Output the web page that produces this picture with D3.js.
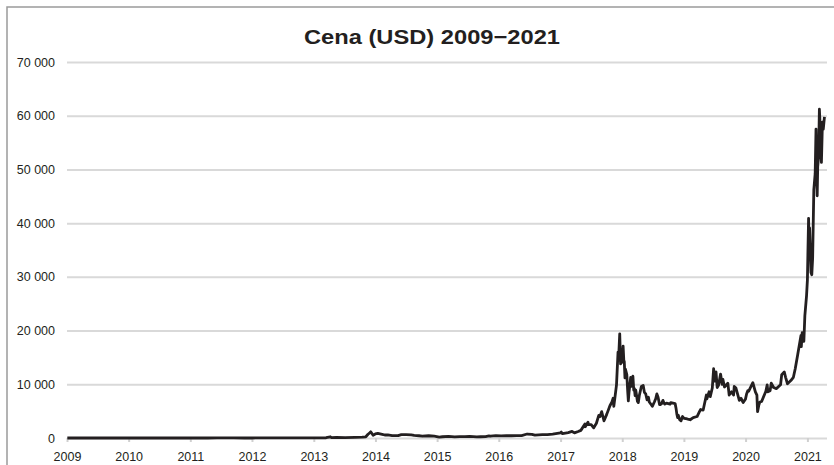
<!DOCTYPE html>
<html>
<head>
<meta charset="utf-8">
<script src="https://cdn.jsdelivr.net/npm/d3@7"></script>
<style>
  html, body { margin: 0; padding: 0; background: #fff; }
  svg { display: block; }
  text { font-family: "Liberation Sans", Arial, sans-serif; fill: #231f20; }
</style>
</head>
<body>
<svg id="chart" width="834" height="465"></svg>
<script>
const title = "Cena (USD) 2009\u22122021";
const yearTicks = [2009, 2010, 2011, 2012, 2013, 2014, 2015, 2016, 2017, 2018, 2019, 2020, 2021];
const yTicks = [0, 10000, 20000, 30000, 40000, 50000, 60000, 70000];

const dates = [
  "2009-01-03","2009-07-01","2010-01-01","2010-07-17","2010-12-31",
  "2011-02-10","2011-04-15","2011-06-08","2011-07-15","2011-09-15","2011-11-18","2011-12-31",
  "2012-03-01","2012-06-01","2012-08-16","2012-10-01","2012-12-31",
  "2013-02-01","2013-03-15","2013-04-09","2013-04-16","2013-05-15","2013-07-05","2013-09-01","2013-10-15","2013-11-05","2013-11-18","2013-11-30","2013-12-04","2013-12-18","2013-12-31",
  "2014-01-15","2014-02-10","2014-02-25","2014-03-15","2014-04-10","2014-05-15","2014-06-03","2014-07-01","2014-08-01","2014-08-18","2014-09-15","2014-10-05","2014-11-12","2014-12-15",
  "2015-01-14","2015-02-01","2015-03-10","2015-04-15","2015-05-15","2015-06-15","2015-07-12","2015-08-24","2015-09-15","2015-10-15","2015-11-04","2015-11-12","2015-12-15",
  "2016-01-15","2016-02-15","2016-03-15","2016-04-15","2016-05-15","2016-06-17","2016-07-15","2016-08-02","2016-09-15","2016-10-15","2016-11-15","2016-12-31",
  "2017-01-05","2017-01-12","2017-02-15","2017-03-10","2017-03-24","2017-04-15","2017-05-01","2017-05-25","2017-05-27","2017-06-12","2017-06-15","2017-07-01","2017-07-16","2017-08-01","2017-08-15","2017-08-22","2017-09-01","2017-09-15","2017-10-01","2017-10-20","2017-11-01","2017-11-08","2017-11-12","2017-11-28","2017-12-07","2017-12-10","2017-12-17","2017-12-22","2017-12-26","2017-12-31",
  "2018-01-06","2018-01-10","2018-01-13","2018-01-17","2018-01-20","2018-01-28","2018-02-02","2018-02-06","2018-02-10","2018-02-20","2018-02-25","2018-03-05","2018-03-10","2018-03-14","2018-03-18","2018-03-22","2018-04-01","2018-04-06","2018-04-12","2018-04-24","2018-05-05","2018-05-12","2018-05-20","2018-05-28","2018-06-05","2018-06-10","2018-06-24","2018-06-28","2018-07-10","2018-07-18","2018-07-25","2018-08-01","2018-08-10","2018-08-14","2018-08-22","2018-08-30","2018-09-05","2018-09-10","2018-09-20","2018-10-11","2018-10-15","2018-11-10","2018-11-15","2018-11-20","2018-11-25","2018-11-29","2018-12-07","2018-12-15","2018-12-24","2018-12-31",
  "2019-01-10","2019-01-15","2019-01-30","2019-02-07","2019-02-25","2019-03-20","2019-04-03","2019-04-10","2019-04-25","2019-05-14","2019-05-17","2019-05-30","2019-06-06","2019-06-18","2019-06-26","2019-06-28","2019-07-02","2019-07-10","2019-07-17","2019-07-25","2019-08-06","2019-08-15","2019-08-20","2019-08-29","2019-09-18","2019-09-26","2019-10-10","2019-10-22","2019-10-26","2019-11-05","2019-11-25","2019-12-05","2019-12-18","2019-12-31",
  "2020-01-07","2020-01-14","2020-01-19","2020-02-13","2020-02-28","2020-03-08","2020-03-12","2020-03-20","2020-03-26","2020-04-05","2020-04-30","2020-05-08","2020-05-12","2020-05-25","2020-06-01","2020-06-15","2020-07-01","2020-07-26","2020-08-02","2020-08-17","2020-08-25","2020-09-05","2020-09-25","2020-10-10","2020-10-21","2020-11-05","2020-11-24","2020-11-26","2020-12-01","2020-12-11","2020-12-17","2020-12-27",
  "2021-01-01","2021-01-08","2021-01-11","2021-01-14","2021-01-22","2021-01-27","2021-02-01","2021-02-08","2021-02-16","2021-02-21","2021-02-28","2021-03-03","2021-03-08","2021-03-13","2021-03-18","2021-03-25","2021-03-31","2021-04-05","2021-04-12"
];
const prices = [
  0, 0, 0, 0.06, 0.3,
  1, 0.8, 30, 14, 5, 2.5, 4.7,
  5, 6.5, 12, 11, 13,
  20, 50, 230, 70, 120, 80, 130, 150, 230, 700, 1000, 1150, 520, 750,
  850, 680, 560, 600, 450, 450, 640, 620, 580, 480, 420, 330, 420, 330,
  180, 230, 290, 225, 240, 245, 300, 210, 230, 260, 400, 330, 450,
  390, 420, 415, 440, 450, 740, 660, 530, 610, 640, 740, 960,
  1100, 800, 1000, 1220, 950, 1200, 1420, 2600, 2100, 2950, 2500, 2500, 1900, 2750, 4200, 4000, 4900, 3200, 4400, 6000, 6700, 7400, 5900, 9900, 16000, 14500, 19400, 13800, 16000, 14100,
  17100, 14500, 14200, 11200, 12800, 11800, 8800, 6900, 8500, 11300, 9600, 11500, 8900, 9200, 7900, 8900, 6800, 6600, 7900, 9600, 9800, 8500, 8200, 7100, 7600, 6700, 6100, 5900, 6700, 7300, 8200, 7600, 6200, 6200, 6400, 7000, 6500, 6300, 6500, 6300, 6600, 6400, 5600, 4500, 3800, 4200, 3400, 3200, 4000, 3700,
  3600, 3600, 3450, 3400, 3800, 4000, 4900, 5300, 5200, 8000, 7300, 8600, 7700, 9300, 12900, 11000, 10600, 12300, 9400, 9800, 11900, 10000, 10900, 9500, 10200, 8000, 8600, 8000, 9600, 9300, 7000, 7400, 6600, 7200,
  8200, 8800, 8700, 10300, 8600, 8000, 4900, 6200, 6700, 6800, 8700, 9900, 8600, 8800, 10200, 9400, 9200, 9900, 11800, 12300, 11300, 10100, 10700, 11300, 12900, 15600, 19100, 17000, 19600, 18000, 22800, 26500,
  29400, 40900, 35500, 39100, 30800, 30400, 33500, 46200, 49200, 57500, 45100, 50500, 52300, 61200, 57600, 51300, 58800, 57500, 59800
];

const svg = d3.select("#chart");
const parse = d3.utcParse("%Y-%m-%d");
const data = dates.map((d, i) => ({ date: parse(d), value: prices[i] }));

const mLeft = 67, mRight = 827, mTop = 62, mBottom = 438;
const x = d3.scaleUtc()
  .domain([Date.UTC(2009, 0, 1), Date.UTC(2021, 0, 1)])
  .range([mLeft, 807.4]);
const y = d3.scaleLinear().domain([0, 70000]).range([mBottom, mTop]);

// outer frame
svg.append("rect")
  .attr("x", 7).attr("y", 7).attr("width", 900).attr("height", 600)
  .attr("fill", "none").attr("stroke", "#9a9a9a").attr("stroke-width", 1.5);

// title
svg.append("text")
  .attr("x", 432).attr("y", 44)
  .attr("text-anchor", "middle")
  .attr("font-size", 20).attr("font-weight", "bold")
  .attr("textLength", 256).attr("lengthAdjust", "spacingAndGlyphs")
  .text(title);

const fmt = d3.formatLocale({ decimal: ",", thousands: " ", grouping: [3], currency: ["", ""] }).format(",d");

// y axis gridlines + labels
const yAxis = d3.axisLeft(y)
  .tickValues(yTicks)
  .tickSize(-(mRight - mLeft))
  .tickPadding(12)
  .tickFormat(fmt);
const gy = svg.append("g").attr("transform", `translate(${mLeft},0)`).call(yAxis);
gy.select(".domain").remove();
gy.selectAll(".tick line").attr("stroke", "#d9d9d9").attr("stroke-width", 2);
gy.selectAll(".tick text").attr("font-size", 12.5).attr("fill", "#231f20")
  .style("font-family", "'Liberation Sans', Arial, sans-serif");

// x axis ticks + labels
const xAxis = d3.axisBottom(x)
  .tickValues(yearTicks.map(yr => new Date(Date.UTC(yr, 0, 1))))
  .tickSize(4)
  .tickPadding(10)
  .tickFormat(d3.utcFormat("%Y"));
const gx = svg.append("g").attr("transform", `translate(0,${mBottom})`).call(xAxis);
gx.select(".domain").remove();
gx.selectAll(".tick line").attr("stroke", "#d0d0d0").attr("stroke-width", 2);
gx.selectAll(".tick text").attr("font-size", 12.5).attr("fill", "#231f20")
  .style("font-family", "'Liberation Sans', Arial, sans-serif");

// price line
const line = d3.line()
  .x(d => x(d.date))
  .y(d => y(d.value));
svg.append("path")
  .datum(data)
  .attr("fill", "none")
  .attr("stroke", "#231f20")
  .attr("stroke-width", 2.8)
  .attr("stroke-linejoin", "round")
  .attr("d", line);
</script>
</body>
</html>
